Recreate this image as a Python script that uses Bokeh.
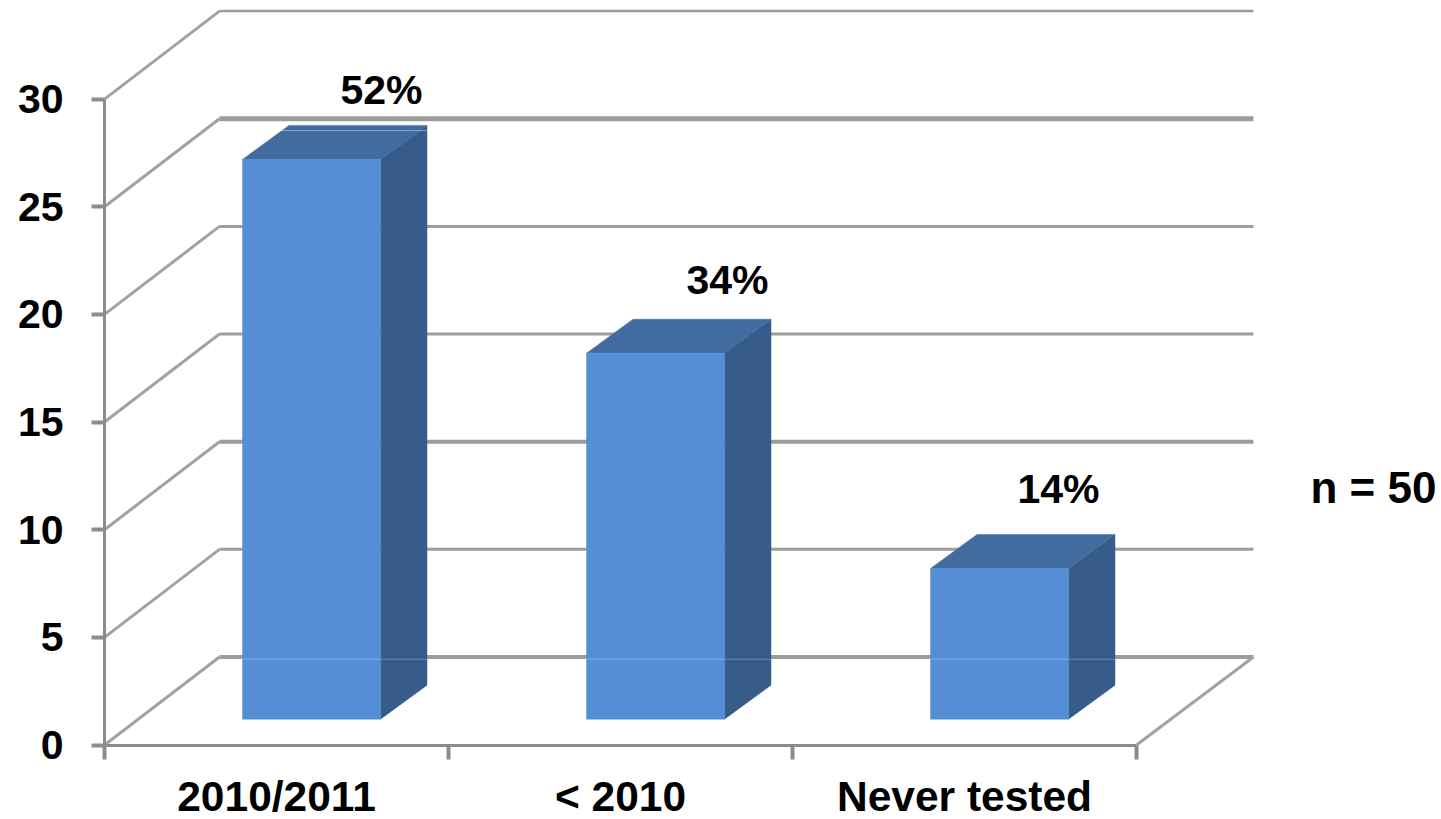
from bokeh.plotting import figure
from bokeh.models import LinearAxis, FixedTicker, Label, ColumnDataSource, Range1d
from bokeh.core.properties import value
from bokeh.embed import file_html
from bokeh.resources import INLINE

# ---- data ----
categories = ["2010/2011", "< 2010", "Never tested"]
counts = [26, 17, 7]
percent_labels = ["52%", "34%", "14%"]
y_ticks = [0, 5, 10, 15, 20, 25, 30]
note = "n = 50"

# ---- layout (pixels) ----
W, H = 1437, 819
X0_PX, Y0_PX = 104, 744.5              # origin of the front plane inside the figure
PX_X, PX_Y = 344.0, 21.53              # pixels per category / per count
WALL_DX, WALL_DY = 115 / PX_X, 88 / PX_Y
WALL_END = 2 / PX_X
BAR_DX, BAR_DY = 46.5 / PX_X, 34 / PX_Y
BAR_START, BAR_W = 138 / PX_X, 138 / PX_X
BAR_BASE = 25.8 / PX_Y
grid_widths = [4, 3, 4, 3, 3, 5, 2.5]
label_dx = [0.805, 0.811, 0.773]
label_dy = [4.4, 4.6, 4.9]

FONT = "Liberation Sans"
FS = "41px"
FS_X = "42.5px"
FS_NOTE = "44px"
AXIS = "#8c8c8c"
GRID = "#9c9c9c"
DIAG = "#a2a2a2"
FRONT, TOP, SIDE = "#558ed5", "#426ca0", "#375c8a"

n = len(categories)
p = figure(
    width=W, height=H, output_backend="svg", toolbar_location=None,
    x_range=Range1d(-X0_PX / PX_X, (W - X0_PX) / PX_X),
    y_range=Range1d(-(H - Y0_PX) / PX_Y, Y0_PX / PX_Y),
    min_border=0, x_axis_type=None, y_axis_type=None,
    outline_line_color=None, background_fill_color="white",
)
p.grid.visible = False

# back wall gridlines
for t, lw in zip(y_ticks, grid_widths):
    p.line([WALL_DX, n + WALL_DX + WALL_END], [t + WALL_DY, t + WALL_DY],
           line_color=GRID, line_width=lw)
# side wall diagonals
for t in y_ticks:
    p.line([0, WALL_DX], [t, t + WALL_DY], line_color=DIAG, line_width=3)
# floor, right edge
p.line([n, n + WALL_DX + WALL_END], [0, WALL_DY], line_color=DIAG, line_width=3)

# bars
fx, fy, tx, ty, sx, sy = [], [], [], [], [], []
for i, c in enumerate(counts):
    l, r = i + BAR_START, i + BAR_START + BAR_W
    b, t = BAR_BASE, c + BAR_BASE
    fx.append([l, r, r, l]); fy.append([b, b, t, t])
    tx.append([l, r, r + BAR_DX, l + BAR_DX]); ty.append([t, t, t + BAR_DY, t + BAR_DY])
    sx.append([r, r + BAR_DX, r + BAR_DX, r]); sy.append([b, b + BAR_DY, t + BAR_DY, t])
p.patches(sx, sy, fill_color=SIDE, line_color=SIDE, line_width=0.5)
p.patches(tx, ty, fill_color=TOP, line_color=TOP, line_width=0.5)
p.patches(fx, fy, fill_color=FRONT, line_color=FRONT, line_width=0.5)

# faint light lines running through the bars
for i in range(n):
    l = i + BAR_START
    p.line([l, l + BAR_W + BAR_DX], [WALL_DY - 0.1] * 2,
           line_color="white", line_alpha=0.28, line_width=1)
p.line([BAR_START + 0.11, BAR_START + BAR_W + BAR_DX], [25 + WALL_DY - 0.55] * 2,
       line_color="white", line_alpha=0.4, line_width=1)

# percentage labels
src = ColumnDataSource(dict(
    x=[i + d for i, d in enumerate(label_dx)],
    y=[c + d for c, d in zip(counts, label_dy)],
    t=percent_labels,
))
p.text("x", "y", "t", source=src, text_font=value(FONT), text_font_style="bold",
       text_font_size=value(FS), text_align="center", text_baseline="middle",
       text_color="black")

# axes
yax = LinearAxis(ticker=FixedTicker(ticks=y_ticks), bounds=(0, 30), fixed_location=0)
yax.axis_line_color = AXIS
yax.axis_line_width = 3
yax.major_tick_line_color = AXIS
yax.major_tick_line_width = 4
yax.major_tick_out = 13
yax.major_tick_in = 0
yax.minor_tick_line_color = None
yax.major_label_standoff = 28
yax.major_label_text_font = FONT
yax.major_label_text_font_style = "bold"
yax.major_label_text_font_size = FS
yax.major_label_text_color = "black"
p.add_layout(yax, "left")

xticks = [i + 0.5 for i in range(n)]
xax = LinearAxis(ticker=FixedTicker(ticks=xticks, minor_ticks=list(range(n + 1))),
                 bounds=(0, n), fixed_location=0)
xax.major_label_overrides = {t: c for t, c in zip(xticks, categories)}
xax.axis_line_color = AXIS
xax.axis_line_width = 3
xax.major_tick_line_color = None
xax.major_tick_out = 0
xax.major_tick_in = 0
xax.minor_tick_line_color = AXIS
xax.minor_tick_line_width = 4
xax.minor_tick_out = 14
xax.minor_tick_in = 0
xax.major_label_standoff = 14
xax.major_label_text_font = FONT
xax.major_label_text_font_style = "bold"
xax.major_label_text_font_size = FS_X
xax.major_label_text_color = "black"
p.add_layout(xax, "below")

# side note
p.add_layout(Label(x=1373, y=H - 487, x_units="screen", y_units="screen",
                   text=note, text_font=FONT, text_font_style="bold",
                   text_font_size=FS_NOTE, text_align="center", text_baseline="middle",
                   text_color="black"))

open("out.html", "w").write(file_html(p, INLINE))
